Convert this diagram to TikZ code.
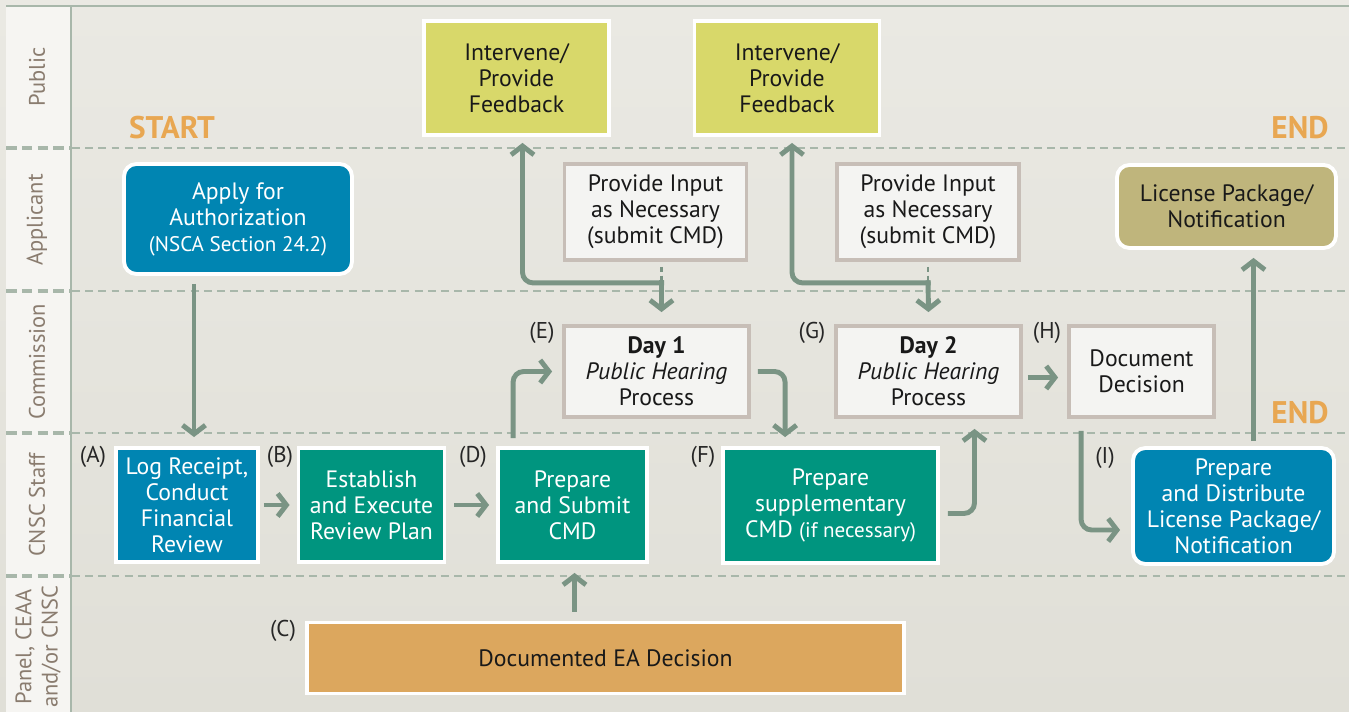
\documentclass[tikz,border=0pt]{standalone}
\usepackage{fontspec}
\setmainfont{PT Sans}
\usetikzlibrary{arrows.meta,calc,positioning}

\definecolor{bgtop}{HTML}{EAE9E3}
\definecolor{bgbot}{HTML}{E0DFD7}
\definecolor{lanecol}{HTML}{F6F5F2}
\definecolor{laneline}{HTML}{A8B7AA}
\definecolor{lanetext}{HTML}{8A7C6F}
\definecolor{flowcol}{HTML}{7A9484}
\definecolor{cnscblue}{HTML}{0085B2}
\definecolor{cnscteal}{HTML}{00957F}
\definecolor{pubgreen}{HTML}{D8D86A}
\definecolor{licolive}{HTML}{BFB57C}
\definecolor{eaorange}{HTML}{DCA75E}
\definecolor{markorange}{HTML}{E8A752}
\definecolor{boxfill}{HTML}{F4F4F2}
\definecolor{boxedge}{HTML}{C7BEB7}

\newcommand{\diagfont}{\fontsize{13.5}{14.8}\selectfont}
\newcommand{\smallfont}{\fontsize{12}{14.8}\selectfont}

\begin{document}
\begin{tikzpicture}[x=0.02cm, y=-0.02cm,
	colbox/.style={draw=white, line width=2.2pt, text=white, align=center, font=\diagfont, inner sep=2pt},
	litebox/.style={draw=boxedge, line width=2.2pt, fill=boxfill, text=black!90, align=center, font=\diagfont, inner sep=2pt},
	sz/.style 2 args={minimum width=#1cm, minimum height=#2cm},
	lanelabel/.style={rotate=90, text=lanetext, align=center, font=\fontsize{12.8}{15}\selectfont},
	steplabel/.style={text=black!85, font=\fontsize{13}{14}\selectfont},
	endmark/.style={text=markorange, font=\fontsize{17.8}{19}\selectfont\bfseries},
	flow/.style={draw=flowcol, line width=2.8pt, -{Straight Barb[length=5pt,width=13pt]}, rounded corners=6pt},
	inputline/.style={draw=flowcol, line width=1.6pt, dash pattern=on 3pt off 2pt},
	lane/.style={draw=laneline, line width=0.9pt, dash pattern=on 4.5pt off 3pt},
	lanehead/.style={draw=laneline, line width=1.8pt, dash pattern=on 6pt off 3pt}]
		\useasboundingbox (0,0) rectangle (1349,712);
		\shade[top color=bgtop, bottom color=bgbot] (0,0) rectangle (1349,712);
		\fill[lanecol] (6,6) rectangle (70,712);
		\draw[laneline, line width=1.7pt] (71,6) -- (71,712);
		\draw[laneline, line width=1.2pt] (6,6) -- (1349,6);
		\foreach \y in {148,291,433,576} {
			\draw[lane] (72,\y) -- (1349,\y);
			\draw[lanehead] (6,\y) -- (70,\y);
		}
		\node[lanelabel] (lpub) at (37,77) {Public};
		\node[lanelabel] (lapp) at (37,220) {Applicant};
		\node[lanelabel] (lcom) at (37,362) {Commission};
		\node[lanelabel] (lstaff) at (37,505) {CNSC Staff};
		\node[lanelabel] (lpanel) at (38,647) {Panel, CEAA\\and/or CNSC};
		\node[endmark] (start) at (172,128) {START};
		\node[endmark] (endtop) at (1300,128) {END};
		\node[endmark] (endlow) at (1300,413) {END};
		\node[colbox, sz={4.56}{2.20}, fill=cnscblue, rounded corners=7pt] (apply) at (238,219) {Apply for\\Authorization\\{\smallfont(NSCA Section 24.2)}};
		\node[colbox, sz={3.70}{2.28}, fill=pubgreen, text=black!90] (int1) at (516.5,78) {Intervene/\\Provide\\Feedback};
		\node[colbox, sz={3.70}{2.28}, fill=pubgreen, text=black!90] (int2) at (787,78) {Intervene/\\Provide\\Feedback};
		\node[litebox, sz={3.64}{1.92}] (input1) at (655.5,212) {Provide Input\\as Necessary\\(submit CMD)};
		\node[litebox, sz={3.64}{1.92}] (input2) at (928,212) {Provide Input\\as Necessary\\(submit CMD)};
		\node[colbox, sz={4.38}{1.66}, fill=licolive, text=black!90, rounded corners=7pt] (lic) at (1226.5,206.5) {License Package/\\Notification};
		\node[litebox, sz={3.70}{1.82}] (day1) at (656.5,371.5) {\textbf{Day 1}\\\textit{Public Hearing}\\Process};
		\node[litebox, sz={3.70}{1.82}] (day2) at (928.5,371.5) {\textbf{Day 2}\\\textit{Public Hearing}\\Process};
		\node[litebox, sz={2.90}{1.82}] (docdec) at (1141.5,371.5) {Document\\Decision};
		\node[colbox, sz={2.84}{2.28}, fill=cnscblue] (log) at (187,505) {Log Receipt,\\Conduct\\Financial\\Review};
		\node[colbox, sz={2.92}{2.28}, fill=cnscteal] (est) at (371.5,505) {Establish\\and Execute\\Review Plan};
		\node[colbox, sz={2.98}{2.28}, fill=cnscteal] (prep) at (572.5,505) {Prepare\\and Submit\\CMD};
		\node[colbox, sz={4.30}{2.30}, fill=cnscteal] (supp) at (830.5,505.5) {Prepare\\supplementary\\CMD {\smallfont(if necessary)}};
		\node[colbox, sz={4.02}{2.32}, fill=cnscblue, rounded corners=7pt] (dist) at (1233.5,506) {Prepare\\and Distribute\\License Package/\\Notification};
		\node[colbox, sz={11.94}{1.42}, fill=eaorange, text=black!90] (ea) at (605.5,658) {Documented EA Decision};
		\node[steplabel] (la) at (93,457) {(A)};
		\node[steplabel] (lb) at (280,457) {(B)};
		\node[steplabel] (lc) at (283,631) {(C)};
		\node[steplabel] (ld) at (473,457) {(D)};
		\node[steplabel] (le) at (542,333) {(E)};
		\node[steplabel] (lf) at (703,457) {(F)};
		\node[steplabel] (lg) at (812,333) {(G)};
		\node[steplabel] (lh) at (1047,333) {(H)};
		\node[steplabel] (li) at (1105,458) {(I)};
		\coordinate (j1) at ($(input1.south)+(6,21)$);
		\coordinate (j2) at ($(input2.south)+(0,21)$);
		\draw[inputline] ($(input1.south)+(6,5)$) -- (j1);
		\draw[inputline] ($(input2.south)+(0,5)$) -- (j2);
		\draw[flow] ($(j1)+(0,-2.5)$) -- ($(day1.north)+(5,-12)$);
		\draw[flow] ($(j1)+(2.5,0)$) -| ($(int1.south)+(6,6)$);
		\draw[flow] ($(j2)+(0,-2.5)$) -- ($(day2.north)+(0,-12)$);
		\draw[flow] ($(j2)+(2.5,0)$) -| ($(int2.south)+(5,6)$);
		\draw[flow] ($(apply.south)+(-44,8)$) -- ($(log.north)+(7,-9)$);
		\draw[flow] ($(log.east)+(4,0)$) -- ($(est.west)+(-7,0)$);
		\draw[flow] ($(est.east)+(8,0)$) -- ($(prep.west)+(-7,0)$);
		\draw[flow] ($(prep.north west)+(17,-8)$) |- ($(day1.west)+(-10,0)$);
		\draw[flow] ($(day1.east)+(7,0)$) -| ($(supp.north west)+(64,-9)$);
		\draw[flow] ($(supp.east)+(8,8)$) -| ($(day2.south)+(46,10)$);
		\draw[flow] ($(day2.east)+(5,6)$) -- ($(docdec.west)+(-9,6)$);
		\draw[flow] ($(docdec.south west)+(14,12)$) |- ($(dist.west)+(-11,24)$);
		\draw[flow] ($(dist.north)+(20,-5)$) -- ($(lic.south)+(27,8)$);
		\draw[flow] ($(ea.north)+(-31,-9)$) -- ($(prep.south)+(2,9)$);
\end{tikzpicture}
\end{document}
